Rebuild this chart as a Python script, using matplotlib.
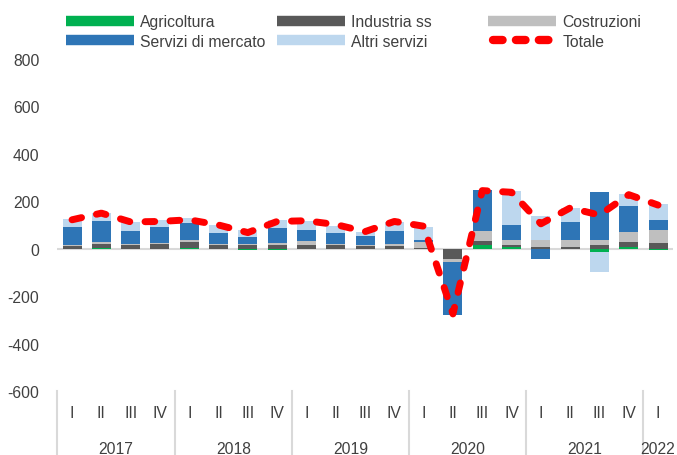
import numpy as np
import matplotlib
matplotlib.use("Agg")
from matplotlib import pyplot as plt
from matplotlib.lines import Line2D

plt.rcParams['font.family'] = ['Liberation Sans', 'DejaVu Sans']
plt.rcParams['axes.unicode_minus'] = False

quarters = ["I", "II", "III", "IV"] * 5 + ["I"]
years = ["2017", "2018", "2019", "2020", "2021", "2022"]

agricoltura = [0, 5, 0, 0, 3, 0, -5, -5, -2, 0, -3, 0, 0, -3, 14, 7, 0, -2, -12, 6, -5]
industria = [10, 15, 17, 20, 26, 14, 14, 17, 15, 14, 10, 12, 3, -42, 20, 9, 7, 9, 15, 22, 22]
costruzioni = [5, 8, 4, 5, 8, 6, 6, 8, 16, 4, 5, 8, 24, -12, 40, 22, 28, 26, 22, 44, 57]
servizi_mercato = [76, 87, 54, 67, 71, 45, 31, 63, 49, 49, 39, 53, 8, -223, 172, 63, -45, 77, 204, 109, 43]
altri_servizi = [34, 35, 36, 27, 20, 34, 26, 32, 35, 28, 17, 41, 57, 0, 0, 141, 103, 61, -88, 50, 67]
totale = [122, 150, 113, 115, 122, 100, 68, 115, 118, 102, 72, 115, 95, -275, 245, 238, 105, 172, 142, 228, 184]

series = [
    ("Agricoltura", agricoltura, "#00B050"),
    ("Industria ss", industria, "#595959"),
    ("Costruzioni", costruzioni, "#BFBFBF"),
    ("Servizi di mercato", servizi_mercato, "#2E75B6"),
    ("Altri servizi", altri_servizi, "#BDD7EE"),
]
txt_col = "#404040"
fs = 11.3

fig = plt.figure(figsize=(6.77, 4.56), dpi=100)
ax = fig.add_axes([57.4 / 677, 64 / 456, 615.3 / 677, 332 / 456])

x = np.arange(len(totale))
pos = np.zeros(len(x))
neg = np.zeros(len(x))
for name, vals, col in series:
    v = np.array(vals, dtype=float)
    bottom = np.where(v >= 0, pos, neg)
    ax.bar(x, v, width=0.65, bottom=bottom, color=col, zorder=2)
    pos = pos + np.where(v >= 0, v, 0)
    neg = neg + np.where(v < 0, v, 0)

ax.axhline(0, color="#D9D9D9", lw=1.5, zorder=1)
ax.plot(x, totale, color="#FF0000", lw=5, linestyle=(0, (1.4, 2.2)),
        dash_capstyle="round", zorder=3)

ax.set_xlim(-0.5, len(x) - 0.5)
ax.set_ylim(-600, 800)
ax.set_yticks(range(-600, 801, 200))
ax.tick_params(axis="y", length=0, labelsize=fs, pad=13, labelcolor=txt_col)
ax.set_xticks([])
for s in ax.spines.values():
    s.set_visible(False)

# category axis: quarters + years, separators between years
tr = ax.get_xaxis_transform()
for i, q in enumerate(quarters):
    ax.text(i, -0.065, q, transform=tr, ha="center", va="center",
            fontsize=fs, color=txt_col)
for k, yr in enumerate(years):
    start = 4 * k - 0.5
    n = min(4, len(x) - 4 * k)
    ax.text(start + n / 2, -0.172, yr, transform=tr, ha="center", va="center",
            fontsize=fs, color=txt_col)
    ax.plot([start, start], [0, -0.2], transform=tr, color="#D9D9D9",
            lw=1.5, clip_on=False)

# title sits mostly above the visible area, as in the source image
fig.text(335 / 677, 1.0 + 9 / 456, "(variazioni in migliaia di unità)",
         ha="center", va="center", fontsize=fs, color=txt_col)

# legend: three columns of two entries
bar_h = lambda c: Line2D([], [], color=c, lw=7.5, solid_capstyle="butt")
tot_h = Line2D([], [], color="#FF0000", lw=6, linestyle=(-0.6, (1.15, 1.6)),
               dash_capstyle="round")
leg_cols = [
    ([bar_h("#00B050"), bar_h("#2E75B6")], ["Agricoltura", "Servizi di mercato"], 66),
    ([bar_h("#595959"), bar_h("#BDD7EE")], ["Industria ss", "Altri servizi"], 277),
    ([bar_h("#BFBFBF"), tot_h], ["Costruzioni", "Totale"], 488),
]
for hs, ls, xpx in leg_cols:
    leg = fig.legend(hs, ls, loc="upper left", bbox_to_anchor=(xpx / 677, 1 - 15 / 456),
                     frameon=False, fontsize=fs, handlelength=4.33, handletextpad=0.4,
                     labelspacing=0.3, borderaxespad=0, borderpad=0)
    for t in leg.get_texts():
        t.set_color(txt_col)

fig.savefig("out.png", dpi=100)
